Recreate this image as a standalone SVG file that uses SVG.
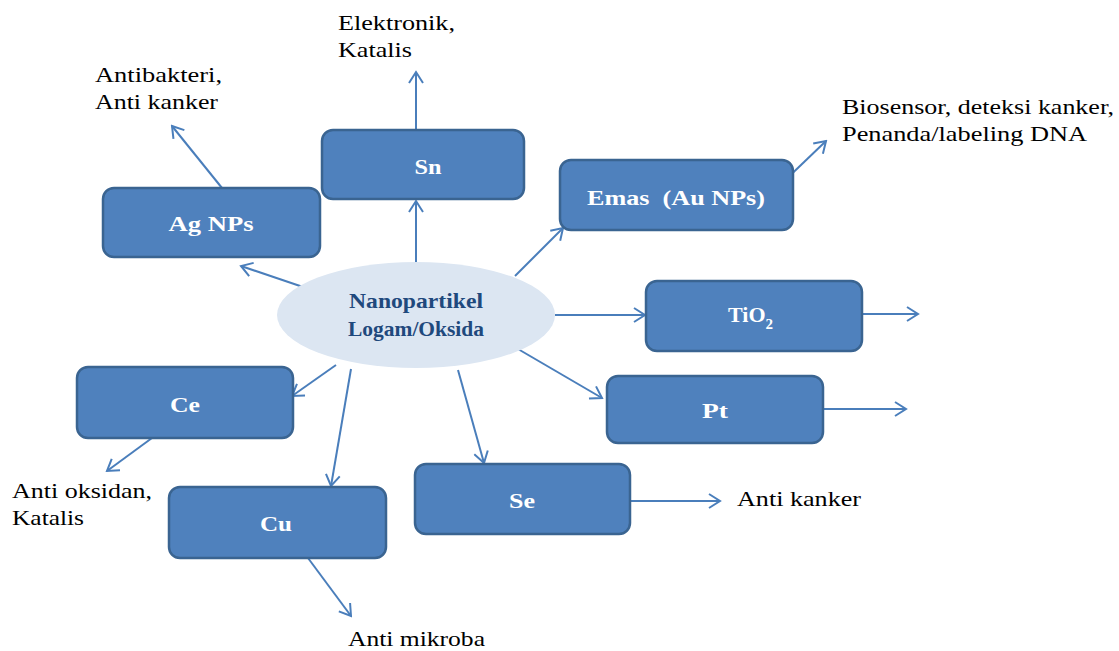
<svg xmlns="http://www.w3.org/2000/svg" width="1119" height="651" viewBox="0 0 1119 651">
<defs>
<marker id="arr" markerWidth="14" markerHeight="16" refX="12" refY="8" orient="auto" markerUnits="userSpaceOnUse">
<path d="M1,1 L12,8 L1,15" fill="none" stroke="#4A7EBB" stroke-width="2"/>
</marker>
<style>
.box{fill:#4F81BD;stroke:#3A6491;stroke-width:2.5}
.bl{font-family:'Liberation Serif','DejaVu Serif','Times New Roman',serif;font-weight:bold;font-size:22px;fill:#FFFFFF;text-anchor:middle}
.lbl{font-family:'Liberation Serif','DejaVu Serif','Times New Roman',serif;font-size:22px;fill:#000000}
.cen{font-family:'Liberation Serif','DejaVu Serif','Times New Roman',serif;font-weight:bold;font-size:21px;fill:#1F497D;text-anchor:middle}
.c{stroke:#4A7EBB;stroke-width:2;fill:none;marker-end:url(#arr)}
</style>
</defs>
<rect width="1119" height="651" fill="#FFFFFF"/>
<g id="connectors">
<line class="c" x1="306" y1="288" x2="241" y2="266"/>
<line class="c" x1="222" y1="188" x2="172" y2="126"/>
<line class="c" x1="416" y1="262" x2="416" y2="201"/>
<line class="c" x1="416" y1="130" x2="416" y2="72"/>
<line class="c" x1="515" y1="276" x2="563" y2="228"/>
<line class="c" x1="777" y1="188" x2="826" y2="141"/>
<line class="c" x1="555" y1="315" x2="645" y2="315"/>
<line class="c" x1="862" y1="314" x2="918" y2="314"/>
<line class="c" x1="518" y1="349" x2="602" y2="398"/>
<line class="c" x1="823" y1="409" x2="906" y2="409"/>
<line class="c" x1="336" y1="365" x2="292" y2="396"/>
<line class="c" x1="152" y1="438" x2="107" y2="471"/>
<line class="c" x1="351" y1="369" x2="331" y2="486"/>
<line class="c" x1="308" y1="558" x2="351" y2="616"/>
<line class="c" x1="458" y1="370" x2="484" y2="463"/>
<line class="c" x1="630" y1="501" x2="720" y2="501"/>
</g>
<g id="center">
<ellipse cx="416" cy="315" rx="139" ry="53" fill="#DCE6F2"/>
<text class="cen" x="416" y="308" textLength="134" lengthAdjust="spacingAndGlyphs">Nanopartikel</text>
<text class="cen" x="416" y="336" textLength="136" lengthAdjust="spacingAndGlyphs">Logam/Oksida</text>
</g>
<g id="ag">
<rect class="box" x="103" y="188" width="217" height="69" rx="11"/>
<text class="bl" x="211" y="231" textLength="85" lengthAdjust="spacingAndGlyphs">Ag NPs</text>
</g>
<g id="sn">
<rect class="box" x="322" y="130" width="202" height="69" rx="11"/>
<text class="bl" x="428" y="174" textLength="27" lengthAdjust="spacingAndGlyphs">Sn</text>
</g>
<g id="emas">
<rect class="box" x="560" y="160" width="233" height="70" rx="11"/>
<text class="bl" x="676" y="205" textLength="178" lengthAdjust="spacingAndGlyphs" xml:space="preserve">Emas  (Au NPs)</text>
</g>
<g id="tio2">
<rect class="box" x="646" y="281" width="216" height="70" rx="11"/>
<text class="bl" x="754" y="322" style="text-anchor:start" transform="translate(-26,0)">TiO<tspan font-size="15" dy="7">2</tspan></text>
</g>
<g id="pt">
<rect class="box" x="607" y="376" width="216" height="67" rx="11"/>
<text class="bl" x="715" y="418" textLength="26" lengthAdjust="spacingAndGlyphs">Pt</text>
</g>
<g id="ce">
<rect class="box" x="77" y="367" width="216" height="71" rx="11"/>
<text class="bl" x="185" y="412" textLength="30" lengthAdjust="spacingAndGlyphs">Ce</text>
</g>
<g id="cu">
<rect class="box" x="169" y="487" width="217" height="71" rx="11"/>
<text class="bl" x="276" y="531" textLength="32" lengthAdjust="spacingAndGlyphs">Cu</text>
</g>
<g id="se">
<rect class="box" x="415" y="464" width="215" height="70" rx="11"/>
<text class="bl" x="522" y="508" textLength="26" lengthAdjust="spacingAndGlyphs">Se</text>
</g>
<g id="labels">
<text class="lbl" x="95" y="82" textLength="127" lengthAdjust="spacingAndGlyphs">Antibakteri,</text>
<text class="lbl" x="95" y="109" textLength="123" lengthAdjust="spacingAndGlyphs">Anti kanker</text>
<text class="lbl" x="338" y="30" textLength="117" lengthAdjust="spacingAndGlyphs">Elektronik,</text>
<text class="lbl" x="338" y="57" textLength="74" lengthAdjust="spacingAndGlyphs">Katalis</text>
<text class="lbl" x="842" y="114" textLength="272" lengthAdjust="spacingAndGlyphs">Biosensor, deteksi kanker,</text>
<text class="lbl" x="842" y="141" textLength="245" lengthAdjust="spacingAndGlyphs">Penanda/labeling DNA</text>
<text class="lbl" x="12" y="498" textLength="140" lengthAdjust="spacingAndGlyphs">Anti oksidan,</text>
<text class="lbl" x="12" y="525" textLength="72" lengthAdjust="spacingAndGlyphs">Katalis</text>
<text class="lbl" x="348" y="646" textLength="137" lengthAdjust="spacingAndGlyphs">Anti mikroba</text>
<text class="lbl" x="737" y="506" textLength="124" lengthAdjust="spacingAndGlyphs">Anti kanker</text>
</g>
</svg>
